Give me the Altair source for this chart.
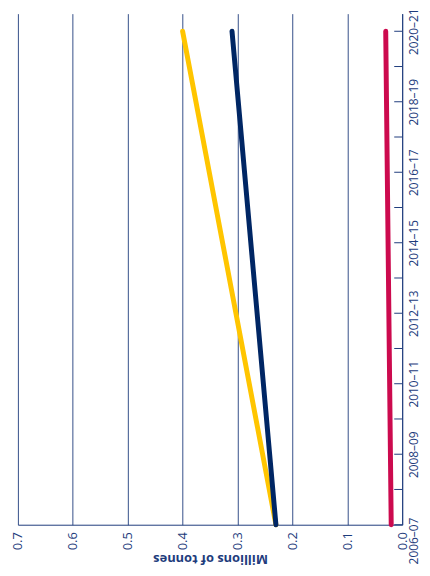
import altair as alt
import pandas as pd

# Data read from the (rotated) chart
years = [2006, 2020]                      # start year of financial year (2006–07, 2020–21)
series_a = [0.23, 0.40]                   # yellow
series_b = [0.23, 0.31]                   # navy
series_c = [0.02, 0.03]                   # crimson
series_names = ["Series A", "Series B", "Series C"]
series_colors = ["#FFC500", "#002664", "#CC0A4E"]
tick_years = list(range(2006, 2021))
value_ticks = [0.0, 0.1, 0.2, 0.3, 0.4, 0.5, 0.6, 0.7]

rows = []
for name, vals in zip(series_names, [series_a, series_b, series_c]):
    for y, v in zip(years, vals):
        rows.append({"series": name, "year": y, "value": v})
df = pd.DataFrame(rows)
ticks_df = pd.DataFrame({"year": tick_years, "x0": 0.0, "x1": 0.0145})

navy = "#1E3C7C"
font = "Open Sans"

x_scale = alt.Scale(domain=[0, 0.7], reverse=True, nice=False, zero=False)
y_scale = alt.Scale(domain=[2006, 2020.5], nice=False, zero=False)

x_axis = alt.Axis(values=value_ticks, format=".1f", orient="bottom",
                  title="Millions of tonnes", titleAngle=180,
                  titleFontWeight="bold", titleFontSize=13, titleColor=navy,
                  titleFont=font, titlePadding=15, titleBaseline="top",
                  labelAngle=-90, labelAlign="right", labelBaseline="middle",
                  labelFont=font, labelFontSize=13, labelColor=navy,
                  labelPadding=7, ticks=False, domainColor=navy,
                  grid=True, gridColor=navy, gridWidth=1, gridOpacity=0.9)

y_axis = alt.Axis(orient="right", values=tick_years, title=None,
                  labelExpr="datum.value % 2 == 0 ? datum.value + '–' + substring(toString(datum.value + 1), 2) : ''",
                  labelAngle=-90, labelAlign="center", labelBaseline="top",
                  labelFont=font, labelFontSize=12, labelColor=navy,
                  labelPadding=6, labelFlush=False, labelOverlap=False,
                  labelOffset={"condition": {"test": "datum.value == 2006", "value": 16}, "value": 0},
                  ticks=False, grid=False, domainColor=navy)

lines = alt.Chart(df).mark_line(strokeWidth=5, strokeCap="round").encode(
    x=alt.X("value:Q", scale=x_scale, axis=x_axis),
    y=alt.Y("year:Q", scale=y_scale, axis=y_axis),
    color=alt.Color("series:N", scale=alt.Scale(domain=series_names, range=series_colors), legend=None),
)

# inward-pointing year ticks drawn as short rules at the right edge
ticks = alt.Chart(ticks_df).mark_rule(color=navy, strokeWidth=1).encode(
    y=alt.Y("year:Q", scale=y_scale, axis=y_axis),
    x=alt.X("x0:Q", scale=x_scale, axis=x_axis),
    x2="x1:Q",
)

chart = alt.layer(lines, ticks).properties(
    width=388, height=516,
    padding={"left": 10, "top": 3, "right": 20, "bottom": 41},
    autosize=alt.AutoSizeParams(type="none"),
).configure_view(stroke=None)

chart.save("out.html", embed_options={"renderer": "svg", "actions": False})
